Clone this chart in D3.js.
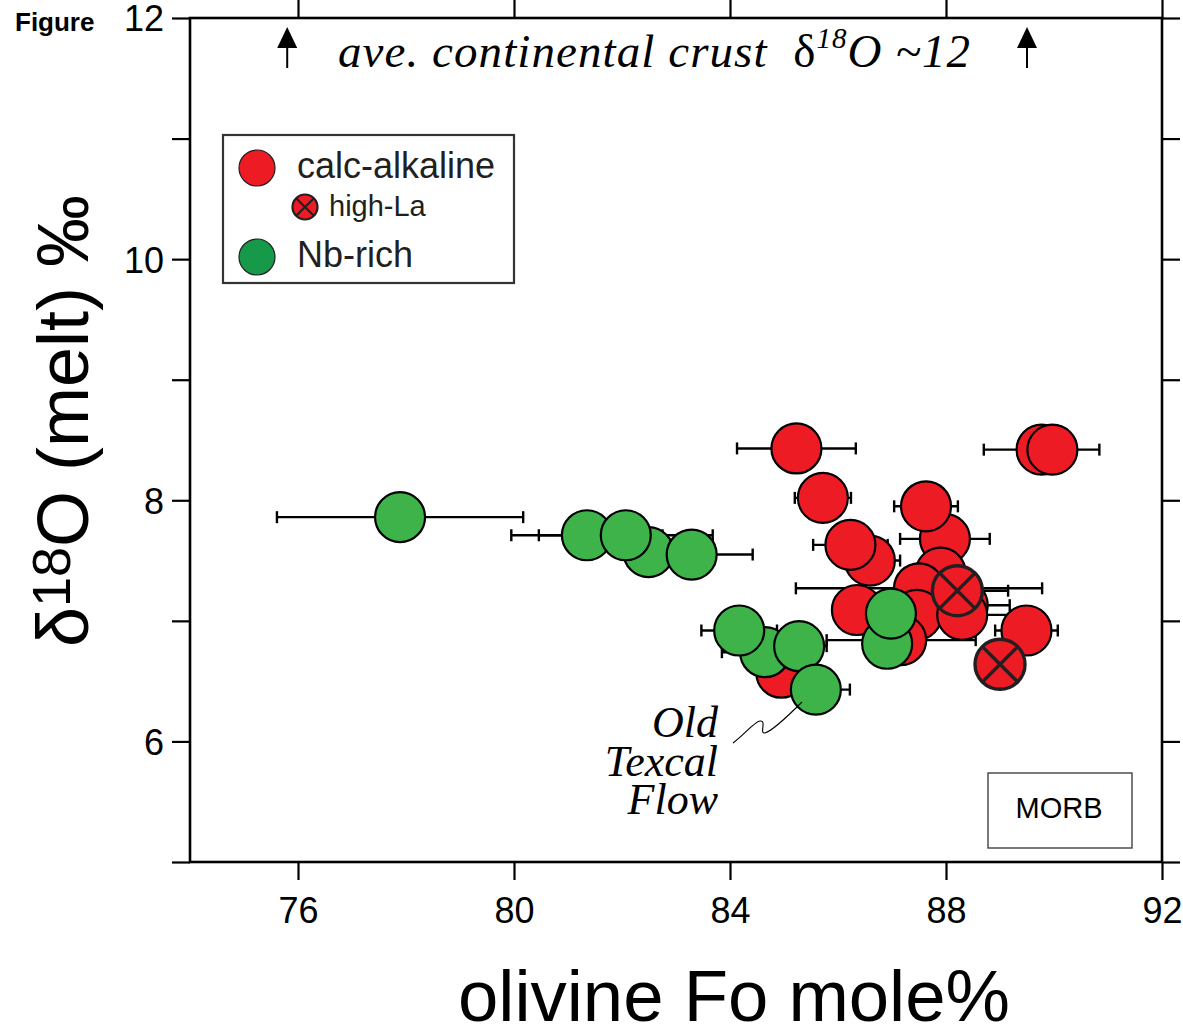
<!DOCTYPE html>
<html>
<head>
<meta charset="utf-8">
<script src="https://cdn.jsdelivr.net/npm/d3@7"></script>
<style>
  html, body { margin: 0; padding: 0; background: #fff; }
  svg { display: block; }
  .sans { font-family: "Liberation Sans", Arial, Helvetica, sans-serif; }
  .serif { font-family: "Liberation Serif", "Times New Roman", Times, serif; }
</style>
</head>
<body>
<svg id="chart" width="1183" height="1035"></svg>
<script>
// Olivine forsterite content vs. melt oxygen isotope composition
const xDomain = [74, 92];
const yDomain = [5, 12];
const xTicks = [76, 80, 84, 88, 92];
const yTicks = [5, 6, 7, 8, 9, 10, 11, 12];
const yTickLabels = [6, 8, 10, 12];

// calc-alkaline samples (drawing order: later points sit on top)
const calcFo   = [89.77, 89.97, 85.23, 85.72, 87.98, 87.63, 86.59, 86.23, 87.90, 87.50, 86.35, 87.46, 87.17, 88.31, 88.30, 89.49, 84.95];
const calcD18O = [8.42, 8.42, 8.43, 8.02, 7.68, 7.95, 7.50, 7.63, 7.40, 7.27, 7.09, 7.05, 6.84, 7.13, 7.05, 6.92, 6.57];
const calcErr  = [1.07, 0, 1.10, 0.52, 0.83, 0.59, 0.56, 0.69, 0, 2.28, 0, 0, 1.38, 0.87, 0.89, 0.58, 0];

// calc-alkaline, high-La subset
const highLaFo   = [88.21, 89.00];
const highLaD18O = [7.25, 6.64];
const highLaErr  = [0.94, 0];

// Nb-rich samples
const nbFo   = [77.89, 81.35, 82.49, 82.07, 83.29, 84.65, 84.17, 85.28, 85.59, 86.91, 86.98];
const nbD18O = [7.86, 7.71, 7.57, 7.71, 7.55, 6.74, 6.92, 6.79, 6.43, 6.81, 7.06];
const nbErr  = [2.28, 1.40, 0, 1.61, 1.13, 0.80, 0.70, 0.51, 0.63, 0, 0];

const RED = "#ED1C24";
const GREEN = "#3DB34A";
const GREEN_KEY = "#17994A";
const R = 25;

const svg = d3.select("#chart");
const x = d3.scaleLinear().domain(xDomain).range([190, 1162]);
const y = d3.scaleLinear().domain(yDomain).range([862, 18]);

const zip = (fo, d, e) => fo.map((v, i) => ({ fo: v, d18o: d[i], err: e[i] }));
const calc = zip(calcFo, calcD18O, calcErr);
const highLa = zip(highLaFo, highLaD18O, highLaErr);
const nb = zip(nbFo, nbD18O, nbErr);

// ---- axes ----
const axisStyle = g => {
  g.select(".domain").remove();
  g.selectAll(".tick line").attr("stroke", "#000").attr("stroke-width", 2.2);
};
const tl = 18;
svg.append("g").attr("transform", "translate(190,0)")
  .call(d3.axisLeft(y).tickValues(yTicks).tickSize(tl).tickSizeOuter(0)
    .tickFormat(d => yTickLabels.includes(d) ? d : ""))
  .call(axisStyle)
  .call(g => g.selectAll(".tick text")
    .attr("class", "sans").attr("font-size", 36).attr("fill", "#000")
    .attr("x", -26).attr("dy", "0.36em").attr("font-family", null));
svg.append("g").attr("transform", "translate(1162,0)")
  .call(d3.axisRight(y).tickValues(yTicks).tickSize(tl).tickSizeOuter(0).tickFormat(""))
  .call(axisStyle);
svg.append("g").attr("transform", "translate(0,18)")
  .call(d3.axisTop(x).tickValues(xTicks).tickSize(tl).tickSizeOuter(0).tickFormat(""))
  .call(axisStyle);
svg.append("g").attr("transform", "translate(0,862)")
  .call(d3.axisBottom(x).tickValues(xTicks).tickSize(tl).tickSizeOuter(0))
  .call(axisStyle)
  .call(g => g.selectAll(".tick text")
    .attr("class", "sans").attr("font-size", 36).attr("fill", "#000")
    .attr("y", 61).attr("dy", null).attr("font-family", null));

// frame
svg.append("rect")
  .attr("x", x(xDomain[0])).attr("y", y(yDomain[1]))
  .attr("width", x(xDomain[1]) - x(xDomain[0]))
  .attr("height", y(yDomain[0]) - y(yDomain[1]))
  .attr("fill", "none").attr("stroke", "#000").attr("stroke-width", 2.6);

// ---- axis titles ----
svg.append("text").attr("class", "sans")
  .attr("x", 734).attr("y", 1021).attr("text-anchor", "middle")
  .attr("font-size", 72.5).attr("fill", "#000")
  .text("olivine Fo mole%");

const yTitle = svg.append("text").attr("class", "sans")
  .attr("transform", "translate(88,421) rotate(-90)")
  .attr("text-anchor", "middle").attr("font-size", 72).attr("fill", "#000");
yTitle.append("tspan").text("δ");
yTitle.append("tspan").attr("font-size", 54).attr("dy", -18).text("18");
yTitle.append("tspan").attr("dy", 18).text("O (melt) ‰");

svg.append("text").attr("class", "sans")
  .attr("x", 15).attr("y", 31).attr("font-size", 26).attr("font-weight", "bold")
  .attr("fill", "#000").text("Figure");

// ---- continental crust annotation ----
const ann = svg.append("text").attr("class", "serif")
  .attr("x", 338).attr("y", 67).attr("font-size", 47).attr("font-style", "italic")
  .attr("fill", "#000").attr("textLength", 632).attr("lengthAdjust", "spacing");
ann.append("tspan").text("ave. continental crust\u00A0\u00A0");
ann.append("tspan").attr("font-style", "normal").text("δ");
ann.append("tspan").attr("font-size", 29).attr("dy", -19).text("18");
ann.append("tspan").attr("dy", 19).text("O ~12");

const arrowFo = [75.8, 89.5];
arrowFo.forEach(v => {
  const ax = x(v);
  svg.append("line").attr("x1", ax).attr("x2", ax).attr("y1", 68).attr("y2", 44)
    .attr("stroke", "#000").attr("stroke-width", 2);
  svg.append("path")
    .attr("d", `M${ax},27 L${ax - 10},48 L${ax + 10},48 Z`)
    .attr("fill", "#000");
});

// ---- error bars ----
const allPts = [...calc, ...highLa, ...nb].filter(d => d.err > 0);
const eb = svg.append("g").attr("stroke", "#000").attr("stroke-width", 2.4).attr("fill", "none");
allPts.forEach(d => {
  const cy = y(d.d18o), x0 = x(d.fo - d.err), x1 = x(d.fo + d.err);
  eb.append("line").attr("x1", x0).attr("x2", x1).attr("y1", cy).attr("y2", cy);
  eb.append("line").attr("x1", x0).attr("x2", x0).attr("y1", cy - 6).attr("y2", cy + 6);
  eb.append("line").attr("x1", x1).attr("x2", x1).attr("y1", cy - 6).attr("y2", cy + 6);
});

// ---- points ----
svg.append("g").selectAll("circle").data(calc).join("circle")
  .attr("cx", d => x(d.fo)).attr("cy", d => y(d.d18o)).attr("r", R)
  .attr("fill", RED).attr("stroke", "#000").attr("stroke-width", 2.2);

const crossed = (g, cx, cy, r, sw) => {
  g.append("circle").attr("cx", cx).attr("cy", cy).attr("r", r)
    .attr("fill", RED).attr("stroke", "#231F20").attr("stroke-width", sw);
  const k = r * Math.SQRT1_2;
  g.append("path")
    .attr("d", `M${cx - k},${cy - k}L${cx + k},${cy + k}M${cx + k},${cy - k}L${cx - k},${cy + k}`)
    .attr("stroke", "#231F20").attr("stroke-width", sw);
};
const hlG = svg.append("g");
highLa.forEach(d => crossed(hlG, x(d.fo), y(d.d18o), R, 3.4));

svg.append("g").selectAll("circle").data(nb).join("circle")
  .attr("cx", d => x(d.fo)).attr("cy", d => y(d.d18o)).attr("r", R)
  .attr("fill", GREEN).attr("stroke", "#000").attr("stroke-width", 2.2);

// ---- Old Texcal Flow label ----
const otf = ["Old", "Texcal", "Flow"];
const otfBase = [737, 776, 814];
otf.forEach((t, i) => {
  svg.append("text").attr("class", "serif")
    .attr("x", 718).attr("y", otfBase[i]).attr("text-anchor", "end")
    .attr("font-size", 44).attr("font-style", "italic").attr("fill", "#000").text(t);
});
svg.append("path")
  .attr("d", "M733,743 C745,734 754,722 760,721 C767,720 759,734 765,733 C772,731 790,714 802,702")
  .attr("fill", "none").attr("stroke", "#000").attr("stroke-width", 1.1);

// ---- MORB box ----
svg.append("rect").attr("x", 988).attr("y", 773).attr("width", 144).attr("height", 75)
  .attr("fill", "none").attr("stroke", "#333").attr("stroke-width", 1.3);
svg.append("text").attr("class", "sans")
  .attr("x", 1059).attr("y", 818).attr("text-anchor", "middle")
  .attr("font-size", 29).attr("fill", "#000").text("MORB");

// ---- legend ----
const lg = svg.append("g");
lg.append("rect").attr("x", 223).attr("y", 135).attr("width", 291).attr("height", 148)
  .attr("fill", "#fff").attr("stroke", "#333").attr("stroke-width", 2.2);
lg.append("circle").attr("cx", 257).attr("cy", 168).attr("r", 18)
  .attr("fill", RED).attr("stroke", "#231F20").attr("stroke-width", 1.2);
lg.append("text").attr("class", "sans").attr("x", 297).attr("y", 178)
  .attr("font-size", 36).attr("fill", "#231F20").text("calc-alkaline");
crossed(lg, 305, 207, 12.5, 2.2);
lg.append("text").attr("class", "sans").attr("x", 329).attr("y", 216)
  .attr("font-size", 29).attr("fill", "#231F20").text("high-La");
lg.append("circle").attr("cx", 257).attr("cy", 257).attr("r", 18)
  .attr("fill", GREEN_KEY).attr("stroke", "#231F20").attr("stroke-width", 1.2);
lg.append("text").attr("class", "sans").attr("x", 297).attr("y", 267)
  .attr("font-size", 36).attr("fill", "#231F20").text("Nb-rich");
</script>
</body>
</html>
